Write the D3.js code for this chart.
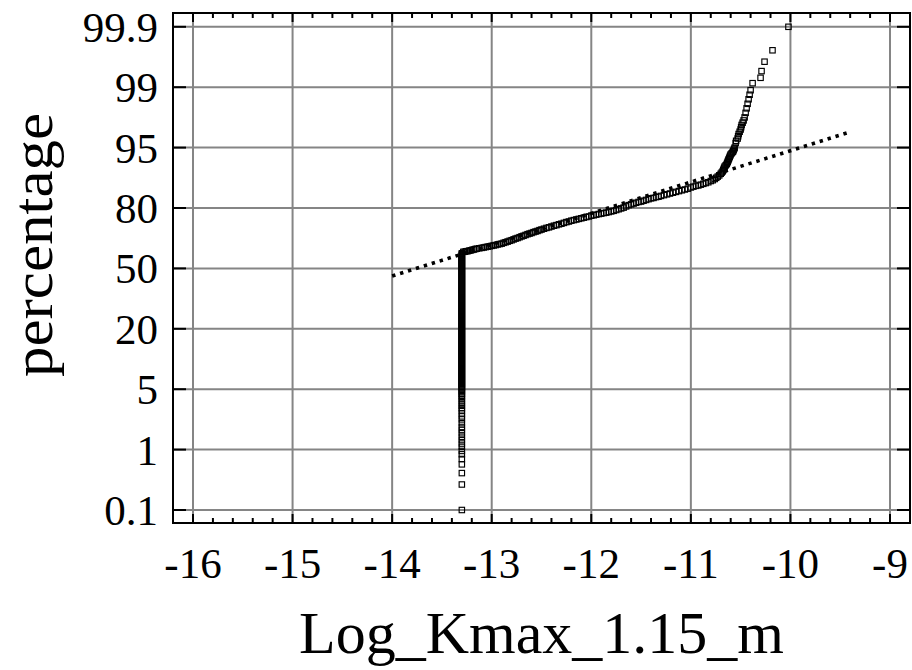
<!DOCTYPE html>
<html><head><meta charset="utf-8">
<script src="https://cdn.jsdelivr.net/npm/d3@7"></script>
<style>
html,body{margin:0;padding:0;background:#fff;}
svg{display:block;font-family:"Liberation Serif","Times New Roman",serif;}
</style>
</head><body>
<svg id="chart" width="912" height="670"></svg>
<script>
// ---------------- data ----------------
const xTicks = [-16, -15, -14, -13, -12, -11, -10, -9];
const xTickLabels = ["-16", "-15", "-14", "-13", "-12", "-11", "-10", "-9"];
const yTicks = [0.1, 1, 5, 20, 50, 80, 95, 99, 99.9];
const yTickLabels = ["0.1", "1", "5", "20", "50", "80", "95", "99", "99.9"];
const xTitle = "Log_Kmax_1.15_m";
const yTitle = "percentage";

// samples sitting at the lower limit (all at the same Log_Kmax value)
const floorValue = -13.30;
const floorPercent = [
  0.1, 0.48, 0.65, 0.78, 0.86, 0.93, 0.98, 1.18, 1.4, 1.63, 1.85, 2.08, 2.3, 2.5, 2.75,
  3.0, 3.2, 3.4, 3.6, 3.75, 3.9, 4.05, 4.2, 4.35, 4.5, 4.6, 4.7, 4.8, 4.9,
  5, 5.25, 5.5, 5.75, 6, 6.25, 6.5, 6.75, 7, 7.25, 7.5, 7.75, 8, 8.25, 8.5, 8.75, 9, 9.25,
  9.5, 9.75, 10, 10.25, 10.5, 10.75, 11, 11.25, 11.5, 11.75, 12, 12.25, 12.5, 12.75, 13,
  13.25, 13.5, 13.75, 14, 14.25, 14.5, 14.75, 15, 15.25, 15.5, 15.75, 16, 16.25, 16.5,
  16.75, 17, 17.25, 17.5, 17.75, 18, 18.25, 18.5, 18.75, 19, 19.25, 19.5, 19.75, 20,
  20.5, 21, 21.5, 22, 22.5, 23, 23.5, 24, 24.5, 25, 25.5, 26, 26.5, 27, 27.5, 28, 28.5,
  29, 29.5, 30, 30.5, 31, 31.5, 32, 32.5, 33, 33.5, 34, 34.5, 35, 35.5, 36, 36.5, 37,
  37.5, 38, 38.5, 39, 39.5, 40, 40.5, 41, 41.5, 42, 42.5, 43, 43.5, 44, 44.5, 45, 45.5,
  46, 46.5, 47, 47.5, 48, 48.5, 49, 49.5, 50, 50.5, 51, 51.5, 52, 52.5, 53, 53.5, 54,
  54.5, 55, 55.5, 56, 56.5, 57, 57.5
];

// samples above the lower limit
const tailValue = [
  -13.27, -13.24, -13.21, -13.18, -13.15, -13.10, -13.06, -13.02, -12.98, -12.94,
  -12.90, -12.86, -12.82, -12.78, -12.74, -12.70, -12.66, -12.62, -12.58, -12.54,
  -12.50, -12.45, -12.40, -12.35, -12.30, -12.25, -12.20, -12.15, -12.10, -12.05,
  -12.00, -11.95, -11.90, -11.85, -11.80, -11.75, -11.70, -11.65, -11.60, -11.55,
  -11.50, -11.45, -11.40, -11.35, -11.30, -11.24, -11.18, -11.12, -11.06, -11.00,
  -10.95, -10.90, -10.85, -10.80, -10.76, -10.73,
  -10.70, -10.68, -10.67, -10.66, -10.64, -10.63, -10.62, -10.61, -10.60, -10.58,
  -10.57, -10.56, -10.55, -10.53, -10.52, -10.50, -10.49, -10.47, -10.46, -10.45,
  -10.44, -10.43, -10.42, -10.41, -10.40, -10.38, -10.30, -10.29, -10.26, -10.18, -10.02
];
const tailPercent = [
  58.3, 58.6, 59.0, 59.4, 59.8, 60.2, 60.6, 61.0, 61.4, 61.9,
  62.3, 63.0, 63.7, 64.4, 65.1, 65.9, 66.6, 67.3, 68.0, 68.6,
  69.3, 70.1, 70.8, 71.5, 72.2, 73.0, 73.7, 74.3, 74.9, 75.5,
  76.2, 76.7, 77.2, 77.7, 78.3, 79.0, 79.8, 80.4, 80.9, 81.3,
  81.6, 82.0, 82.4, 82.7, 83.0, 83.4, 83.8, 84.2, 84.6, 85.1,
  85.5, 85.8, 86.2, 86.7, 87.2, 87.8,
  88.5, 89.1, 89.7, 90.3, 90.9, 91.5, 92.1, 92.7, 93.3, 93.9,
  94.4, 95.0, 95.3, 95.6, 95.9, 96.2, 96.5, 96.8, 97.0, 97.3,
  97.6, 97.9, 98.2, 98.5, 98.8, 99.06, 99.14, 99.24, 99.38, 99.55, 99.9
];
// more samples in the crowded part of the tail
const tailValue2 = [
  -13.285, -13.255, -13.225, -13.195, -13.165, -13.125, -13.08, -13.04, -13.00, -12.96,
  -12.92, -12.88, -12.84, -12.80, -12.76, -12.72, -12.68, -12.64, -12.60, -12.56,
  -12.52, -12.475, -12.425, -12.375, -12.325, -12.275, -12.225, -12.175, -12.125, -12.075,
  -12.025, -11.975, -11.925, -11.875, -11.825, -11.775, -11.725, -11.675, -11.625, -11.575,
  -11.525, -11.475, -11.425, -11.375, -11.325, -11.27, -11.21, -11.15, -11.09, -11.03,
  -10.975, -10.925, -10.875, -10.825, -10.78, -10.745, -10.715,
  -10.69, -10.675, -10.665, -10.65, -10.635, -10.625, -10.615, -10.605, -10.59, -10.575,
  -10.565, -10.545, -10.525, -10.51, -10.495, -10.48
];
const tailPercent2 = [
  58.2, 58.5, 58.8, 59.2, 59.6, 60.0, 60.4, 60.8, 61.2, 61.6,
  62.1, 62.7, 63.3, 64.0, 64.8, 65.5, 66.2, 67.0, 67.6, 68.3,
  69.0, 69.7, 70.4, 71.2, 71.9, 72.6, 73.3, 74.0, 74.6, 75.2,
  75.8, 76.4, 77.0, 77.5, 78.0, 78.6, 79.4, 80.1, 80.7, 81.1,
  81.5, 81.8, 82.2, 82.5, 82.8, 83.2, 83.6, 84.0, 84.4, 84.8,
  85.3, 85.6, 86.0, 86.4, 86.9, 87.5, 88.1,
  88.8, 89.4, 90.0, 90.6, 91.2, 91.8, 92.4, 93.0, 93.6, 94.1,
  94.7, 95.45, 95.75, 96.05, 96.35, 96.65
];

// fitted normal line (end points)
const fitValue = [-14.0, -9.42];
const fitPercent = [46.2, 96.0];

// ---------------- layout ----------------
const frame = {left: 173, right: 910, top: 13, bottom: 523};
const padX = 20, padYBottom = 13, padYTop = 13.8;

const svg = d3.select("#chart");

const x = d3.scaleLinear().domain([xTicks[0], xTicks[xTicks.length - 1]])
  .range([frame.left + padX, frame.right - padX]);

const yBottom = frame.bottom - padYBottom, yTop = frame.top + padYTop;
const y = d3.scaleLinear().domain(yTicks)
  .range(yTicks.map((d, i) => yBottom - i * (yBottom - yTop) / (yTicks.length - 1)));

const gridColor = "#858585";

// gridlines
svg.append("g").selectAll("line").data(xTicks).join("line")
  .attr("x1", d => x(d)).attr("x2", d => x(d))
  .attr("y1", frame.top).attr("y2", frame.bottom)
  .attr("stroke", gridColor).attr("stroke-width", 2);
svg.append("g").selectAll("line").data(yTicks).join("line")
  .attr("x1", frame.left).attr("x2", frame.right)
  .attr("y1", d => y(d)).attr("y2", d => y(d))
  .attr("stroke", gridColor).attr("stroke-width", 2);

// x ticks (major + minor), inward on top and bottom
const minorTicks = d3.range(xTicks[0] * 5, xTicks[xTicks.length - 1] * 5 + 1).map(d => d / 5)
  .filter(d => Math.abs(d - Math.round(d)) > 1e-6);
const tickG = svg.append("g").attr("stroke", "#000").attr("stroke-width", 2);
[[frame.bottom, -1], [frame.top, 1]].forEach(([base, dir]) => {
  tickG.append("g").selectAll("line").data(xTicks).join("line")
    .attr("x1", d => x(d)).attr("x2", d => x(d))
    .attr("y1", base).attr("y2", base + dir * 9);
  tickG.append("g").selectAll("line").data(minorTicks).join("line")
    .attr("x1", d => x(d)).attr("x2", d => x(d))
    .attr("y1", base).attr("y2", base + dir * 5);
});
// y ticks inward left and right
[[frame.left, 1], [frame.right, -1]].forEach(([base, dir]) => {
  tickG.append("g").selectAll("line").data(yTicks).join("line")
    .attr("x1", base).attr("x2", base + dir * 13)
    .attr("y1", d => y(d)).attr("y2", d => y(d));
});

// frame
svg.append("rect")
  .attr("x", frame.left).attr("y", frame.top)
  .attr("width", frame.right - frame.left).attr("height", frame.bottom - frame.top)
  .attr("fill", "none").attr("stroke", "#000").attr("stroke-width", 2);

// tick labels
svg.append("g").selectAll("text").data(xTicks).join("text")
  .attr("x", d => x(d)).attr("y", 578)
  .attr("text-anchor", "middle").attr("font-size", 43).attr("fill", "#000")
  .text((d, i) => xTickLabels[i]);
svg.append("g").selectAll("text").data(yTicks).join("text")
  .attr("x", 158).attr("y", d => y(d)).attr("dy", "0.35em")
  .attr("text-anchor", "end").attr("font-size", 43).attr("fill", "#000")
  .text((d, i) => yTickLabels[i]);

// axis titles
svg.append("text")
  .attr("x", (frame.left + frame.right) / 2).attr("y", 653)
  .attr("text-anchor", "middle").attr("font-size", 60).attr("fill", "#000")
  .text(xTitle);
svg.append("text")
  .attr("transform", "translate(52," + 245 + ") rotate(-90)")
  .attr("text-anchor", "middle").attr("font-size", 58).attr("fill", "#000")
  .attr("textLength", 264).attr("lengthAdjust", "spacingAndGlyphs")
  .text(yTitle);

// points
const points = floorPercent.map(p => ({v: floorValue, p}))
  .concat(tailValue.map((v, i) => ({v, p: tailPercent[i]})))
  .concat(tailValue2.map((v, i) => ({v, p: tailPercent2[i]})));
const s = 5.4;
svg.append("g").selectAll("rect").data(points).join("rect")
  .attr("x", d => x(d.v) - s / 2).attr("y", d => y(d.p) - s / 2)
  .attr("width", s).attr("height", s)
  .attr("fill", "none").attr("stroke", "#000").attr("stroke-width", 1.15);

// fitted dotted line
const fit = fitValue.map((v, i) => ({v, p: fitPercent[i]}));
svg.append("path").datum(fit)
  .attr("d", d3.line().x(d => x(d.v)).y(d => y(d.p)))
  .attr("fill", "none").attr("stroke", "#000").attr("stroke-width", 3.6)
  .attr("stroke-dasharray", "3.4,4.9");
</script>
</body></html>
